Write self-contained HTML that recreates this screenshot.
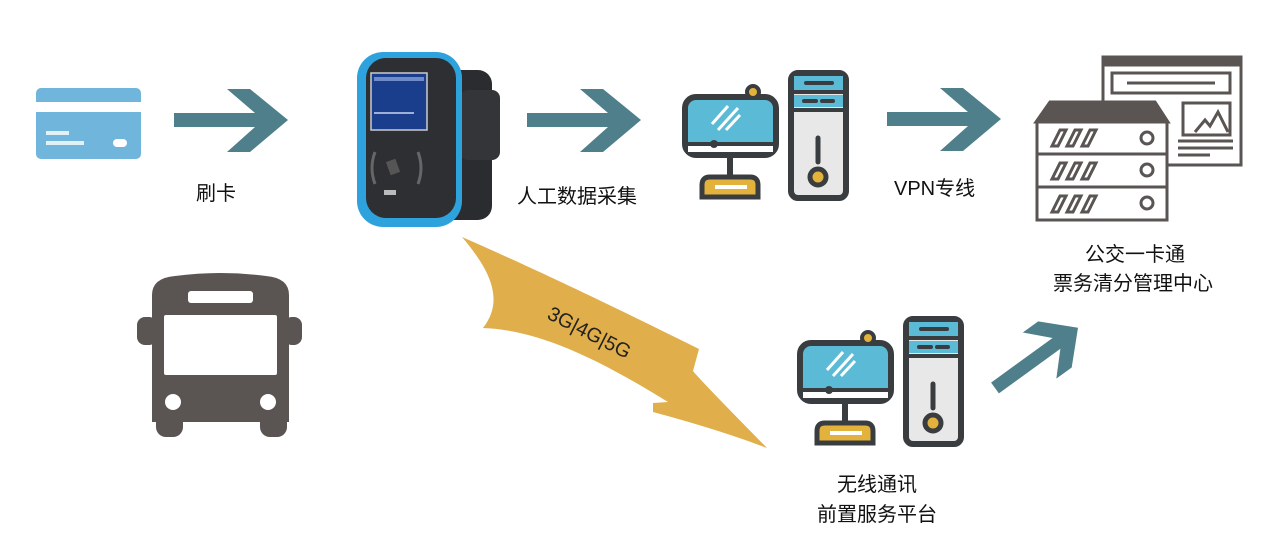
<!DOCTYPE html>
<html><head><meta charset="utf-8"><style>
body{margin:0;background:#fff;width:1268px;height:536px;overflow:hidden}
svg{display:block}
text{font-family:"Liberation Sans","Noto Sans CJK SC",sans-serif;fill:#111;font-size:20px}
</style></head><body>
<svg width="1268" height="536" viewBox="0 0 1268 536" xmlns="http://www.w3.org/2000/svg">
<defs>
<g id="pc">
  <rect x="15" y="37" width="91" height="58" rx="11" fill="#5bbad5" stroke="#3a3d40" stroke-width="6"/>
  <rect x="18" y="84" width="85" height="8" fill="#fff"/>
  <line x1="15" y1="84" x2="106" y2="84" stroke="#3a3d40" stroke-width="4"/>
  <circle cx="44" cy="84" r="4" fill="#3a3d40"/>
  <line x1="42" y1="64" x2="58" y2="46" stroke="#fff" stroke-width="3"/>
  <line x1="48" y1="70" x2="68" y2="48" stroke="#fff" stroke-width="3"/>
  <line x1="56" y1="70" x2="70" y2="55" stroke="#fff" stroke-width="3"/>
  <circle cx="83" cy="32" r="6" fill="#e2b23c" stroke="#3a3d40" stroke-width="4"/>
  <rect x="57" y="97" width="6" height="20" fill="#3a3d40"/>
  <path d="M32 137 L32 125 Q32 117 40 117 L80 117 Q88 117 88 125 L88 137 Z" fill="#e2b23c" stroke="#3a3d40" stroke-width="5"/>
  <rect x="45" y="125" width="32" height="4" fill="#fff"/>
  <rect x="121" y="13" width="55" height="125" rx="7" fill="#e8e8e8" stroke="#3a3d40" stroke-width="6"/>
  <rect x="124" y="16" width="49" height="14" fill="#5bbad5"/>
  <rect x="124" y="35" width="49" height="12" fill="#5bbad5"/>
  <line x1="121" y1="32" x2="176" y2="32" stroke="#3a3d40" stroke-width="4"/>
  <line x1="121" y1="50" x2="176" y2="50" stroke="#3a3d40" stroke-width="4"/>
  <line x1="136" y1="23" x2="162" y2="23" stroke="#3a3d40" stroke-width="4" stroke-linecap="round"/>
  <line x1="134" y1="41" x2="146" y2="41" stroke="#3a3d40" stroke-width="4" stroke-linecap="round"/>
  <line x1="152" y1="41" x2="163" y2="41" stroke="#3a3d40" stroke-width="4" stroke-linecap="round"/>
  <line x1="148" y1="78" x2="148" y2="102" stroke="#3a3d40" stroke-width="5" stroke-linecap="round"/>
  <circle cx="148" cy="117" r="8" fill="#e2b23c" stroke="#3a3d40" stroke-width="5"/>
</g>
<path id="arr" d="M0 24 L81 24 L53 0 L76 0 L114 31 L76 63 L53 63 L81 38 L0 38 Z" fill="#4e7f8a"/>
</defs>

<!-- card -->
<rect x="36" y="88" width="105" height="71" rx="5" fill="#6fb5dc"/>
<rect x="36" y="102" width="105" height="10" fill="#fff"/>
<rect x="46" y="131" width="23" height="4" fill="#fff" opacity=".8"/>
<rect x="46" y="141" width="38" height="4" fill="#fff" opacity=".8"/>
<rect x="113" y="139" width="14" height="8" rx="4" fill="#fff"/>

<!-- arrows -->
<use href="#arr" x="174" y="89"/>
<use href="#arr" x="527" y="89"/>
<use href="#arr" x="887" y="88"/>
<g transform="translate(995,388) rotate(-36)">
  <path d="M0 -7 L80 -7 L58 -30 L78 -30 L108 0 L78 30 L58 30 L80 7 L0 7 Z" fill="#4e7f8a" transform="scale(0.95)"/>
</g>

<text x="196" y="200">刷卡</text>
<text x="517" y="203">人工数据采集</text>
<text x="894" y="195" font-size="18">VPN专线</text>
<text x="1085" y="261">公交一卡通</text>
<text x="1053" y="290">票务清分管理中心</text>
<text x="837" y="491">无线通讯</text>
<text x="817" y="521">前置服务平台</text>

<!-- card reader -->
<rect x="440" y="70" width="52" height="150" rx="14" fill="#2a2c2f"/>
<rect x="460" y="90" width="40" height="70" rx="8" fill="#333538"/>
<rect x="357" y="52" width="105" height="175" rx="26" fill="#2ea2dc"/>
<rect x="366" y="58" width="90" height="160" rx="20" fill="#2d2f33"/>
<rect x="371" y="73" width="56" height="57" fill="#1a3d8c" stroke="#ccc" stroke-width="1.5"/>
<rect x="374" y="77" width="50" height="4" fill="#6f8cc8"/>
<rect x="374" y="112" width="40" height="2" fill="#9fb0d8"/>
<path d="M375 152 q-6 16 0 32 M418 152 q6 16 0 32" stroke="#666" stroke-width="3" fill="none"/>
<rect x="388" y="160" width="10" height="14" fill="#555" transform="rotate(-20 393 167)"/>
<rect x="384" y="190" width="12" height="5" fill="#bbb"/>

<!-- gold arrow -->
<path d="M462 237 C560 280 640 320 699 349 L693 371 Q700 380 767 448 Q720 430 653 412 L653 403 L668 402 C600 360 540 330 483 328 C505 300 490 270 462 237 Z" fill="#e0ae4a"/>
<text transform="translate(546,318) rotate(27)" font-size="21" style="fill:#222">3G|4G|5G</text>

<!-- computers -->
<use href="#pc" transform="translate(670,60)"/>
<use href="#pc" transform="translate(785,306)"/>

<!-- server -->
<g fill="none" stroke="#5a5452" stroke-width="3">
  <rect x="1103" y="57" width="138" height="108" fill="#fff"/>
  <rect x="1104" y="57" width="136" height="8" fill="#5a5452"/>
  <rect x="1112" y="73" width="118" height="20"/>
  <line x1="1127" y1="83" x2="1215" y2="83"/>
  <rect x="1183" y="103" width="47" height="32"/>
  <path d="M1195 132 l10 -12 l5 6 l8 -14 l10 20"/>
  <line x1="1178" y1="141" x2="1233" y2="141"/>
  <line x1="1178" y1="148" x2="1233" y2="148"/>
  <line x1="1178" y1="155" x2="1210" y2="155"/>
  <path d="M1036 122 L1050 102 L1155 102 L1168 122 Z" fill="#5a5452"/>
  <rect x="1037" y="122" width="130" height="32" fill="#fff"/>
  <rect x="1037" y="154" width="130" height="33" fill="#fff"/>
  <rect x="1037" y="187" width="130" height="33" fill="#fff"/>
  <circle cx="1147" cy="138" r="6"/><circle cx="1147" cy="170" r="6"/><circle cx="1147" cy="203" r="6"/>
  <path d="M1052 146 l8 -16 h6 l-8 16 z M1067 146 l8 -16 h6 l-8 16 z M1082 146 l8 -16 h6 l-8 16 z"/>
  <path d="M1052 179 l8 -16 h6 l-8 16 z M1067 179 l8 -16 h6 l-8 16 z M1082 179 l8 -16 h6 l-8 16 z"/>
  <path d="M1052 212 l8 -16 h6 l-8 16 z M1067 212 l8 -16 h6 l-8 16 z M1082 212 l8 -16 h6 l-8 16 z"/>
</g>

<!-- bus -->
<g fill="#5a5452">
  <path d="M152 295 Q152 278 175 276 Q220 270 266 276 Q289 278 289 295 L289 422 L152 422 Z"/>
  <rect x="137" y="317" width="20" height="28" rx="8"/>
  <rect x="284" y="317" width="18" height="28" rx="8"/>
  <rect x="156" y="410" width="27" height="27" rx="10"/>
  <rect x="260" y="410" width="27" height="27" rx="10"/>
</g>
<rect x="164" y="315" width="113" height="60" rx="2" fill="#fff"/>
<rect x="188" y="291" width="65" height="12" rx="3" fill="#fff"/>
<circle cx="173" cy="402" r="8" fill="#fff"/>
<circle cx="268" cy="402" r="8" fill="#fff"/>
</svg>
</body></html>
